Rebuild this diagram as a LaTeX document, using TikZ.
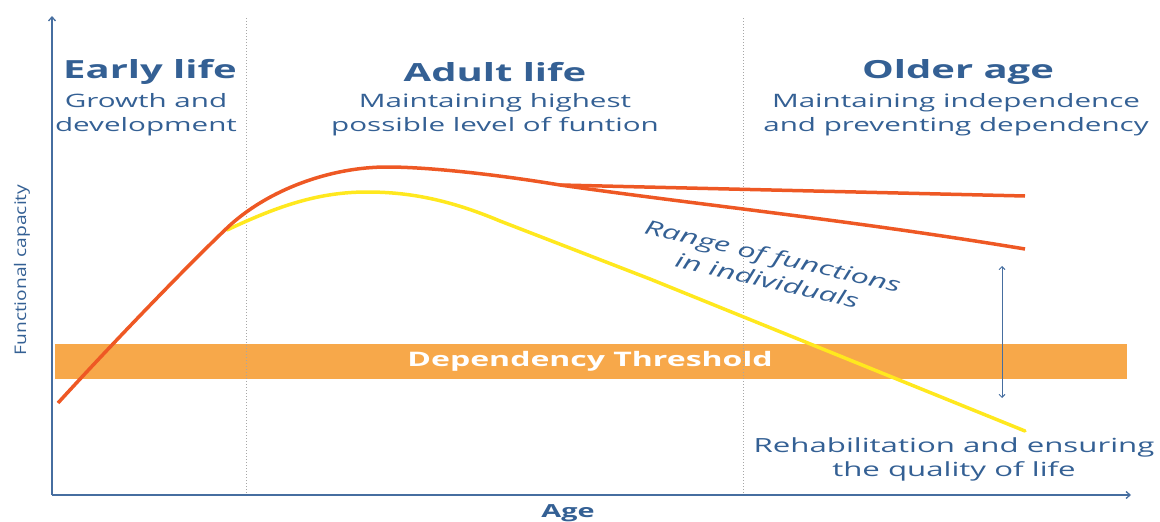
\documentclass[tikz,border=0pt]{standalone}
\usepackage{fontspec}
\setmainfont{Open Sans}[FakeStretch=1.6]
\newfontfamily\ylabfont{Open Sans}[FakeStretch=1.2]
\usetikzlibrary{arrows.meta}
\definecolor{txtblue}{RGB}{52,96,148}
\definecolor{axblue}{RGB}{70,110,160}
\definecolor{redc}{RGB}{238,88,36}
\definecolor{yelc}{RGB}{255,232,30}
\definecolor{bandc}{RGB}{247,168,74}
\tikzset{
  title/.style={font=\bfseries\fontsize{25}{28}\selectfont, text=txtblue, inner sep=0pt},
  sub/.style={font=\fontsize{18.5}{24}\selectfont, text=txtblue, align=center, inner sep=0pt},
  axis/.style={draw=axblue, line width=1.3pt, -{Straight Barb[length=4pt,width=7pt]}},
  divider/.style={draw=gray!70, line width=1pt, dotted},
  curve/.style={line width=3.5pt},
}
\begin{document}
\begin{tikzpicture}[x=1pt,y=-1pt]
\useasboundingbox (0,0) rectangle (1160,522);
% band
\fill[bandc] (55,344) rectangle (1127,379);
\node[font=\bfseries\fontsize{20}{22}\selectfont, text=white, inner sep=0pt] (dep) at (590,361) {Dependency Threshold};
% dividers
\coordinate (d1t) at (246,18); \coordinate (d1b) at (246,495);
\coordinate (d2t) at (743,18); \coordinate (d2b) at (743,495);
\draw[divider] (d1t) -- (d1b);
\draw[divider] (d2t) -- (d2b);
% axes
\coordinate (o) at (52,495);
\coordinate (ytop) at (52,16);
\coordinate (xend) at (1131,495);
\draw[axis] (o) -- (ytop);
\draw[axis] (o) -- (xend);
% curves
\draw[curve, yelc, line cap=round] (227,230) .. controls (280,205) and (320,192) .. (367,192)
  .. controls (410,192) and (450,200) .. (500,221) -- (650,279) -- (1025,431);
\draw[curve, redc] (58,403) .. controls (110,346) and (185,268) .. (227,228)
  .. controls (267,190) and (330,167) .. (387,167)
  .. controls (430,167) and (500,175) .. (560,185);
\draw[curve, redc] (560,185) -- (1025,196);
\draw[curve, redc] (560,185) .. controls (700,205) and (850,220) .. (1025,249);
% range arrow
\coordinate (ra) at (1002,266); \coordinate (rb) at (1002,398);
\draw[draw=axblue, line width=0.9pt, {Straight Barb[length=3pt,width=6pt]}-{Straight Barb[length=3pt,width=6pt]}] (ra) -- (rb);
% titles
\node[title] (t1) at (150,72) {Early life};
\node[sub] (s1) at (146,115) {Growth and\\development};
\node[title] (t2) at (495,72) {Adult life};
\node[sub] (s2) at (495,115) {Maintaining highest\\possible level of funtion};
\node[title] (t3) at (958,72) {Older age};
\node[sub] (s3) at (956,115) {Maintaining independence\\and preventing dependency};
% range label
\node[font=\itshape\fontsize{20}{25}\selectfont, text=txtblue, align=center, rotate=-13, inner sep=0pt] (rng) at (770,268) {Range of functions\\in individuals};
% rehab
\node[font=\fontsize{19.5}{24}\selectfont, text=txtblue, align=center, inner sep=0pt] (reh) at (954,459) {Rehabilitation and ensuring\\the quality of life};
% axis labels
\node[font=\ylabfont\fontsize{16}{18}\selectfont, text=txtblue, rotate=90, inner sep=0pt] (ylab) at (22,270) {Functional capacity};
\node[font=\bfseries\fontsize{18}{20}\selectfont, text=txtblue, inner sep=0pt] (xlab) at (568,513) {Age};
\end{tikzpicture}
\end{document}
